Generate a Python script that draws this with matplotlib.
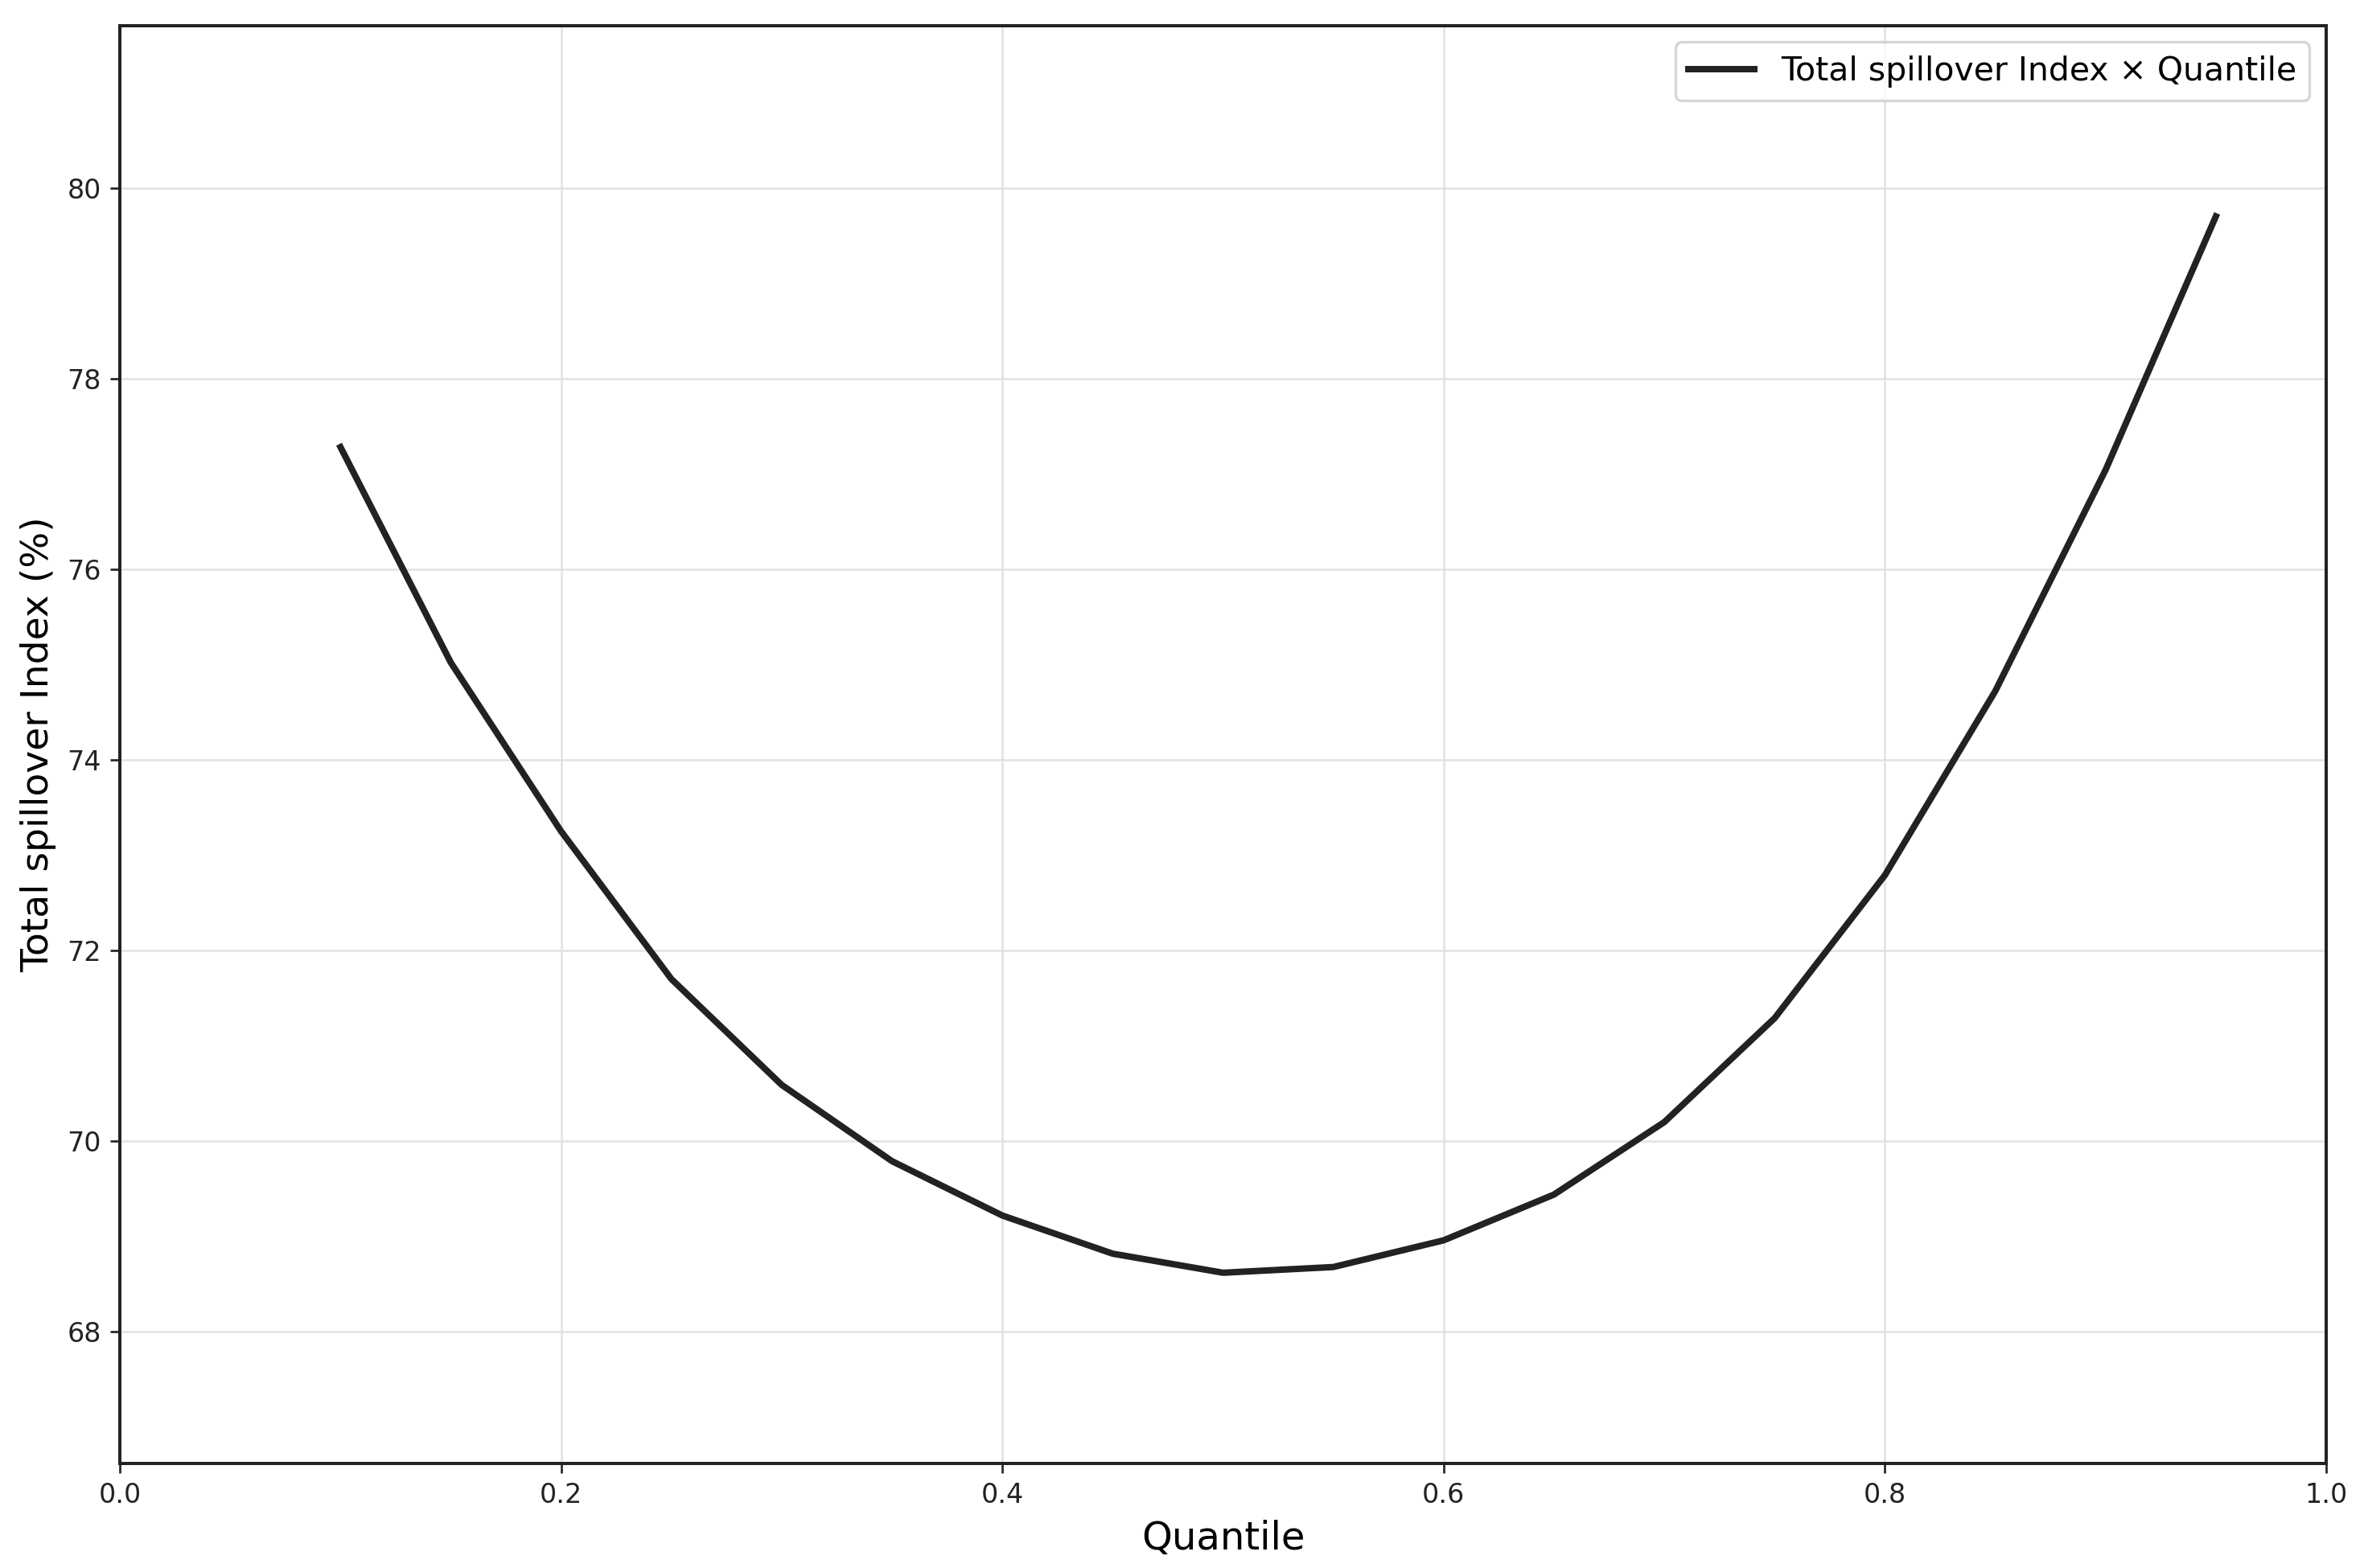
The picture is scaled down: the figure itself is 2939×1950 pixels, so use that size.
import numpy as np
import matplotlib
matplotlib.use("Agg")
import matplotlib.pyplot as plt

# Quantiles and total spillover index values (%)
quantiles = [0.10, 0.15, 0.20, 0.25, 0.30, 0.35, 0.40, 0.45, 0.50,
             0.55, 0.60, 0.65, 0.70, 0.75, 0.80, 0.85, 0.90, 0.95]
tsi_values = [77.28, 75.02, 73.25, 71.70, 70.59, 69.79, 69.22, 68.82, 68.62,
              68.68, 68.96, 69.44, 70.20, 71.29, 72.79, 74.72, 77.04, 79.70]

line_color = '#222222'

fig, ax = plt.subplots(figsize=(2939 / 240, 1950 / 240))
fig.subplots_adjust(left=0.0507, right=0.984, top=0.9836, bottom=0.0667)

ax.plot(quantiles, tsi_values, color=line_color, linewidth=2.4,
        label='Total spillover Index × Quantile')

ax.set_xlim(0, 1)
ax.set_ylim(min(tsi_values) - 2, max(tsi_values) + 2)
ax.set_xlabel('Quantile', fontsize=14.4)
ax.set_ylabel('Total spillover Index (%)', fontsize=14.2)
ax.tick_params(labelsize=10, color=line_color, labelcolor=line_color)
ax.grid(True, color='#e0e0e0', linewidth=0.8, alpha=0.9)

for s in ax.spines.values():
    s.set_color(line_color)
    s.set_linewidth(1.2)

ax.legend(loc='upper right', fontsize=12.3, frameon=True)

plt.savefig('out.png', dpi=240)
